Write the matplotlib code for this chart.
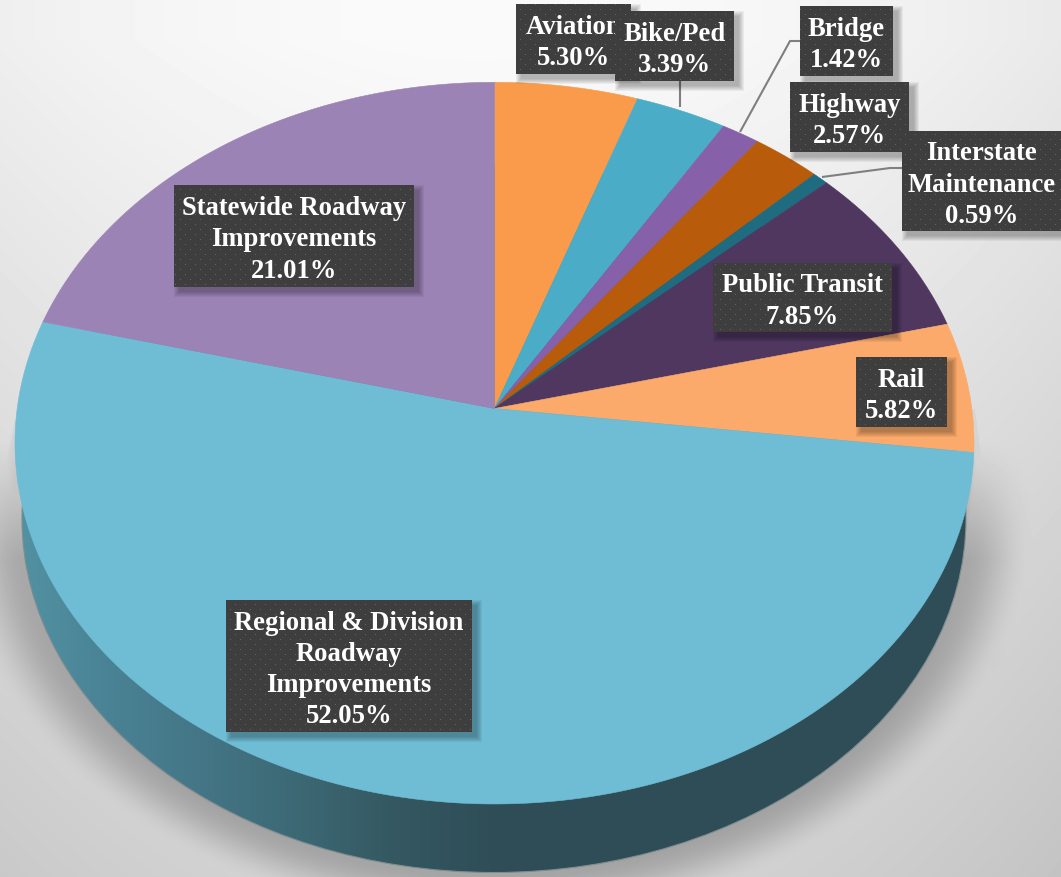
import matplotlib
matplotlib.use('Agg')
import matplotlib.pyplot as plt
from matplotlib.patches import Polygon, Rectangle, Ellipse
import numpy as np

plt.rcParams['font.family'] = ['Liberation Serif', 'DejaVu Serif']

# data, clockwise from 12 o'clock
categories = ['Aviation', 'Bike/Ped', 'Bridge', 'Highway', 'Interstate\nMaintenance',
              'Public Transit', 'Rail', 'Regional & Division\nRoadway\nImprovements',
              'Statewide Roadway\nImprovements']
shares = [5.30, 3.39, 1.42, 2.57, 0.59, 7.85, 5.82, 52.05, 21.01]
colors = ['#f99b4a', '#4bacc8', '#8660a8', '#b85c0c', '#1f6b80',
          '#4f3760', '#fbaa6b', '#6fbdd4', '#9b83b5']

# label boxes in pixels (left, right, top, bottom), same order as categories
boxes = [(516, 631, 5, 75), (615, 734, 12, 82), (800, 893, 7, 77), (790, 909, 83, 153),
         (902, 1061, 132, 232), (713, 892, 264, 333), (856, 947, 358, 428),
         (226, 472, 601, 733), (174, 414, 186, 288)]

W, H = 1061, 878
apex_x, apex_y = 494.5, 409.5
k_x, k_y, persp = 477.3, 357.5, 0.096
low_cx, low_cy, low_rx, low_ry = 494, 519.5, 472, 354


def project(theta):
    # tilted disc: theta clockwise from the top, far edge is foreshortened
    x, y = np.sin(theta), np.cos(theta)
    d = 1 + persp * y
    return apex_x + k_x * x / d, apex_y - k_y * y / d


fig = plt.figure(figsize=(W / 100, H / 100), dpi=100)
ax = fig.add_axes([0, 0, 1, 1])
ax.set_xlim(0, W)
ax.set_ylim(H, 0)
ax.axis('off')

# background and cast shadow
xx, yy = np.meshgrid(np.arange(W) + 0.5, np.arange(H) + 0.5)
bg = 250 - 0.00005 * (xx - 480) ** 2 - 0.045 * np.clip(yy - 40, 0, None)
r = np.hypot((xx - low_cx) / low_rx, (yy - low_cy) / low_ry)
dist = (r - 1) * 420
t = np.clip(1 - dist / 62, 0, 1)
dark = 48 * t * t * (3 - 2 * t) * np.clip((yy - 440) / 120, 0, 1)
# thin shadow cones running off the rim on both sides
edge_r = 975 + (yy - 410) * 30 / 240
cone_r = 38 * np.clip((edge_r - xx) / 22, 0.2, 1) * np.clip((680 - yy) / 170, 0, 1)
cone_r[(xx > edge_r) | (yy < 410) | (xx < 900)] = 0
edge_l = 15 - (yy - 420) * 15 / 70
cone_l = 22 * np.clip((xx - edge_l) / 20 + 0.3, 0, 1)
cone_l[(xx < edge_l) | (yy < 420) | (xx > 100) | (yy > 600)] = 0
shade = np.maximum(np.maximum(dark, cone_r), cone_l)
ax.imshow(bg - shade, extent=(0, W, H, 0), cmap='gray', vmin=0, vmax=255, aspect='auto', zorder=0)

# side of the disc
side_x = [20, 100, 200, 300, 400, 500, 1061]
side_r = [82, 74, 68, 60, 52, 46, 46]
side_g = [146, 132, 118, 104, 87, 77, 77]
side_b = [163, 150, 134, 116, 96, 87, 87]
col = np.arange(W) + 0.5
side = np.stack([np.interp(col, side_x, side_r), np.interp(col, side_x, side_g),
                 np.interp(col, side_x, side_b)], axis=1)[None, :, :] / 255
im = ax.imshow(side, extent=(0, W, H, 0), aspect='auto', zorder=1)
rim = Ellipse((low_cx, low_cy), 2 * low_rx, 2 * low_ry, fc='none', ec='#7f8c90', lw=0.8,
              transform=ax.transData, zorder=1.1)
ax.add_patch(rim)
im.set_clip_path(rim)

# top of the disc
edges = np.cumsum([0] + shares) / 100 * 2 * np.pi
for i, c in enumerate(colors):
    n = max(int(shares[i] * 6), 8)
    th = np.linspace(edges[i], edges[i + 1], n)
    px, py = project(th)
    pts = np.column_stack([np.r_[apex_x, px], np.r_[apex_y, py]])
    ax.add_patch(Polygon(pts, closed=True, fc=c, ec=c, lw=0.4, zorder=2))

# leader lines
line_kw = dict(color='#7f7f7f', lw=1.5, zorder=3, solid_capstyle='butt')
ax.plot([680, 680], [82, 108], **line_kw)
ax.plot([800, 790, 740], [42, 42, 133], **line_kw)
ax.plot([902, 890, 822], [169, 169, 178], **line_kw)

# labels
for i, (name, val) in enumerate(zip(categories, shares)):
    l, rt, t0, b = boxes[i]
    z = 4 + i * 0.1
    for g in range(6):
        ax.add_patch(Rectangle((l + 5 - g, t0 + 5 - g), rt - l + 2 * g, b - t0 + 2 * g,
                               fc='black', ec='none', alpha=0.05, zorder=z))
    bx, by = np.meshgrid(np.arange(l, rt), np.arange(t0, b))
    dots = ((bx % 10 == 0) & (by % 10 == 0)) | ((bx % 10 == 5) & (by % 10 == 5))
    ax.imshow(np.where(dots, 100, 62), extent=(l, rt, b, t0), cmap='gray', vmin=0, vmax=255,
              aspect='auto', interpolation='nearest', zorder=z + 0.01)
    ax.text((l + rt) / 2, (t0 + b) / 2 + 3, f'{name}\n{val:.2f}%', color='white', fontsize=19.2,
            fontweight='bold', ha='center', va='center', linespacing=1.33, zorder=z + 0.02)

ax.set_xlim(0, W)
ax.set_ylim(H, 0)
fig.savefig('out.png', dpi=100)
